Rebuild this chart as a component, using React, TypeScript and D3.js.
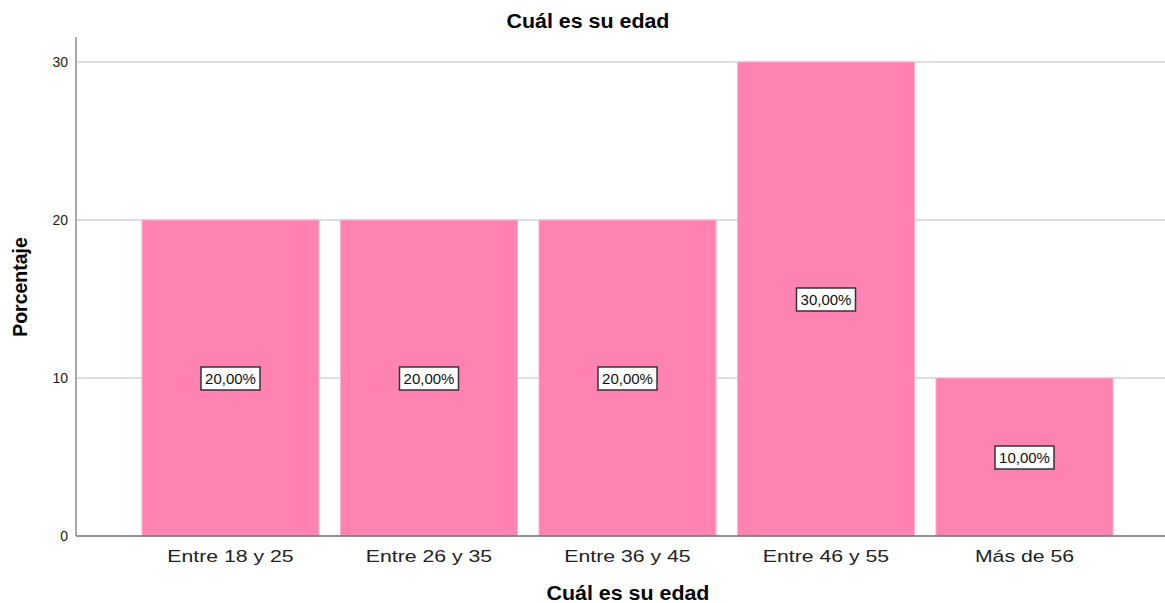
import React from "react";
import * as d3 from "d3";

const categories = ["Entre 18 y 25", "Entre 26 y 35", "Entre 36 y 45", "Entre 46 y 55", "Más de 56"];
const values = [20, 20, 20, 30, 10];
const valueLabels = ["20,00%", "20,00%", "20,00%", "30,00%", "10,00%"];
const yTicks = [0, 10, 20, 30];

const W = 1165;
const H = 603;
const FONT = "'Liberation Sans', Arial, sans-serif";

export default function App() {
  const axisX = 76;
  const y = d3.scaleLinear().domain([0, 30]).range([536, 62]);
  const x = d3
    .scaleBand<string>()
    .domain(categories)
    .range([131.25, 1123.75])
    .paddingInner(0.108)
    .paddingOuter(0.054);

  return (
    <svg width={W} height={H} style={{ position: "absolute", left: 0, top: 0, background: "#fff" }}>
      <text
        transform="translate(588,28) scale(1.07,1)"
        textAnchor="middle"
        fontFamily={FONT}
        fontSize={20}
        fontWeight="bold"
        fill="#000"
      >
        Cuál es su edad
      </text>
      {yTicks.filter((t) => t > 0).map((t) => (
        <line key={t} x1={axisX} x2={W} y1={y(t)} y2={y(t)} stroke="#d3d3d3" strokeWidth={1.5} />
      ))}
      {categories.map((c, i) => (
        <rect
          key={c}
          x={x(c)!}
          y={y(values[i])}
          width={x.bandwidth()}
          height={y(0) - y(values[i])}
          fill="#fe83b3"
          stroke="#ffb0cf"
          strokeWidth={1}
        />
      ))}
      <line x1={axisX} x2={W} y1={y(0)} y2={y(0)} stroke="#707070" strokeWidth={1.5} />
      <line x1={axisX} x2={axisX} y1={37} y2={y(0)} stroke="#8a8a8a" strokeWidth={1.5} />
      {yTicks.map((t) => (
        <text key={t} x={68} y={y(t) + 5} textAnchor="end" fontFamily={FONT} fontSize={14} fill="#222">
          {t}
        </text>
      ))}
      {categories.map((c) => (
        <text
          key={c}
          transform={`translate(${x(c)! + x.bandwidth() / 2},562) scale(1.25,1)`}
          textAnchor="middle"
          fontFamily={FONT}
          fontSize={17}
          fill="#222"
        >
          {c}
        </text>
      ))}
      {categories.map((c, i) => {
        const cx = x(c)! + x.bandwidth() / 2;
        const cy = y(values[i] / 2);
        return (
          <g key={c}>
            <rect x={cx - 29.5} y={cy - 11} width={59} height={23} fill="#fff" stroke="#333" strokeWidth={1.5} />
            <text x={cx} y={cy + 6} textAnchor="middle" fontFamily={FONT} fontSize={15} fill="#111">
              {valueLabels[i]}
            </text>
          </g>
        );
      })}
      <text
        transform="translate(628,600) scale(1.07,1)"
        textAnchor="middle"
        fontFamily={FONT}
        fontSize={20}
        fontWeight="bold"
        fill="#000"
      >
        Cuál es su edad
      </text>
      <text
        transform="translate(27,287) rotate(-90)"
        textAnchor="middle"
        fontFamily={FONT}
        fontSize={19.5}
        fontWeight="bold"
        fill="#000"
      >
        Porcentaje
      </text>
    </svg>
  );
}
